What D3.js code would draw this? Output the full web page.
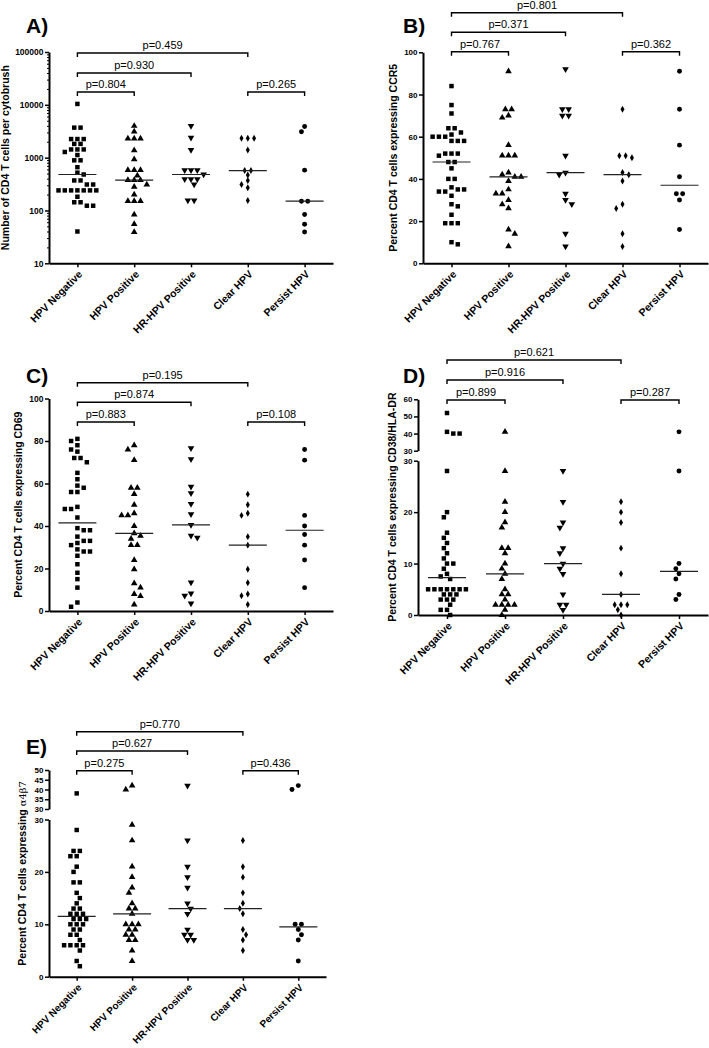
<!DOCTYPE html>
<html><head><meta charset="utf-8">
<script src="https://cdn.jsdelivr.net/npm/d3@7"></script>
<style>body{margin:0;background:#fff}svg{display:block}</style>
</head><body>
<svg id="chart" width="709" height="1048"></svg>
<script>
const categories = ["HPV Negative","HPV Positive","HR-HPV Positive","Clear HPV","Persist HPV"];
const comparisons = [[0,3],[0,2],[0,1],[3,4]];

// A) Number of CD4 T cells per cytobrush
const cd4Count = [
  [10400,3700,3700,2250,2250,2250,1820,1820,1430,1430,1430,1280,1120,890,890,660,520,480,370,370,310,310,240,240,240,240,240,240,240,182,143,143,123,123,40],
  [3980,3100,2290,2290,2290,1380,925,580,580,580,460,375,375,375,310,280,200,150,150,150,84,55,39],
  [4000,2400,1400,580,580,580,480,390,390,390,310,155,155],
  [2320,2320,2320,1390,570,570,470,370,311,270,155],
  [3900,3100,580,150,150,84,55,39]
];
const pCd4 = ["p=0.459","p=0.930","p=0.804","p=0.265"];

// B) Percent CD4 T cells expressing CCR5
const ccr5 = [
  [84,75,71,64,64,62,61,60,60,60,58,58,58,52,52,52,51,48,48,45,40,40,36,35,35,34,34,32,28,27,23,19,19,19,10,9],
  [91,73,73,70,69,56,51,51,51,43,42,41,41,39,35,33,33,30,28,26,16,14,8],
  [92,73,73,70,70,51,43,42,33,30,28,14,8],
  [73,51,51,50,43,42,39,28,26,14,8],
  [91,73,56,41,33,33,30,16]
];
const pCcr5 = ["p=0.801","p=0.371","p=0.767","p=0.362"];

// C) Percent CD4 T cells expressing CD69
const cd69 = [
  [81,80,78,76,75,72,72,70,65,62,59,58,56,56,49,48,48,44,39,38,38,35,33,33,32,31,29,28,28,26,22,18,15,11,4,2],
  [78,76,71,58,58,55,50,46,45,45,40,36.5,35.4,34,31,31,24,19.6,13,11,8,7,3],
  [76.6,71.4,58.5,55.4,50.4,45.6,40.5,35.4,34.5,13.5,8.3,7.2,3.6],
  [55,50,46,45,35,31,19.6,13.3,8,7.2,3.1],
  [76,71,45,40,36,31,24,11]
];
const pCd69 = ["p=0.195","p=0.874","p=0.883","p=0.108"];

// D) Percent CD4 T cells expressing CD38/HLA-DR
const cd38 = [
  [52,41,40,40,28,20,19,16,15,14,13,12,11,10,10,9,8,7.5,7,5,5,5,5,5,5,5,4,4,4,3,3,3,2,1,1,0],
  [41,28,22,20,18,17,13,13,12,10,9,8,7,5,4,4,3,2,2,2,2,1,0],
  [28,22,18,17,13,12,10,9,8,4,2,2,1],
  [22,20,18,13,8,4,2,2,2,1,0],
  [41,28,10,9,8,7,4,3]
];
const pCd38 = ["p=0.621","p=0.916","p=0.899","p=0.287"];

// E) Percent CD4 T cells expressing a4b7
const a4b7 = [
  [38,28,24,24,23,23,21,20,18,18,16,15,14,13,13,12,12,12,11,11,11,10,10,10,9,9,8,8,7,6,6,6,6,5,3,2],
  [42,40,29,26,21,19,17,16,14,13,13,12,10,10,10,9,9,8,8,7,7,5,3],
  [42,26,21,19,17,14,13,12,9,8,8,7,7],
  [26,21,19,16,14,13,12,9,8,7,5],
  [42,40,10,10,9,8,7,3]
];
const pA4b7 = ["p=0.770","p=0.627","p=0.275","p=0.436"];

const ticksLog = [10,100,1000,10000,100000];
const ticksPct = [0,20,40,60,80,100];
const ticksDUpper = [30,40,50,60];
const ticksDLower = [0,10,20,30];
const ticksEUpper = [30,35,40,45,50];
const ticksELower = [0,10,20,30];

const FONT = "'Liberation Sans', Arial, Helvetica, sans-serif";
const svg = d3.select("#chart");

const panels = [
  {title:"A)", tx:26, ty:33, data:cd4Count, p:pCd4, x0:49, x1:333, labX:9, tickFont:8.5, catFont:10.5,
   ylab:[{t:"Number of CD4 T cells per cytobrush"}],
   segs:[{scale:d3.scaleLog().domain([10,100000]).range([263.3,52]), ticks:ticksLog, minor:true}],
   br:[53,73,92,92]},
  {title:"B)", tx:403, ty:33, data:ccr5, p:pCcr5, x0:423, x1:708, labX:397, tickFont:8, catFont:10.5,
   ylab:[{t:"Percent CD4 T cells expressing CCR5"}],
   segs:[{scale:d3.scaleLinear().domain([0,100]).range([263.3,52.3]), ticks:ticksPct}],
   br:[12.7,32.3,51.7,51.7]},
  {title:"C)", tx:26, ty:383, data:cd69, p:pCd69, x0:49, x1:333, labX:22, tickFont:8.5, catFont:10.5,
   ylab:[{t:"Percent CD4 T cells expressing CD69"}],
   segs:[{scale:d3.scaleLinear().domain([0,100]).range([611,398.5]), ticks:ticksPct}],
   br:[382.7,402.3,422,422]},
  {title:"D)", tx:403, ty:382.7, data:cd38, p:pCd38, x0:418, x1:708, labX:395.5, tickFont:8, catFont:10.5,
   ylab:[{t:"Percent CD4 T cells expressing CD38/HLA-DR"}],
   segs:[{scale:d3.scaleLinear().domain([30,60]).range([450.7,399.3]), ticks:ticksDUpper},
         {scale:d3.scaleLinear().domain([0,30]).range([615,460.7]), ticks:ticksDLower}],
   br:[360,380,400,400]},
  {title:"E)", tx:26, ty:754, data:a4b7, p:pA4b7, x0:49, x1:326, labX:26, tickFont:8, catFont:10,
   ylab:[{t:"Percent CD4 T cells expressing "},{t:"\u03b14\u03b27", serif:true}],
   segs:[{scale:d3.scaleLinear().domain([30,50]).range([809,770]), ticks:ticksEUpper},
         {scale:d3.scaleLinear().domain([0,30]).range([976.7,819.5]), ticks:ticksELower}],
   br:[731.7,751,770.7,770.7]}
];

const triDown = {draw(ctx, size){ const y = -Math.sqrt(size/(Math.sqrt(3)*3)); ctx.moveTo(0,-y*2); ctx.lineTo(-Math.sqrt(3)*y, y); ctx.lineTo(Math.sqrt(3)*y, y); ctx.closePath(); }};
const shapes = [
  {type:d3.symbolSquare, size:20},
  {type:d3.symbolTriangle, size:19},
  {type:triDown, size:19},
  {type:d3.symbolDiamond, size:14},
  {type:d3.symbolCircle, size:19}
];

const ROW = 6.3, MINDIST = 5.4;
function dodge(values, yFn){
  const groups = d3.groups(values, v=>v).sort((a,b)=>yFn(a[0])-yFn(b[0]));
  const placed = [], out = [];
  groups.forEach(([v, arr], gi) => {
    const y = yFn(v), n = arr.length;
    const base = d3.range(n).map(i => (i-(n-1)/2)*ROW);
    let found = 0;
    outer: for (let k=0; k<100; k++){
      const step = k*ROW/2;
      const cands = k===0 ? [0] : (gi%2 ? [-step, step] : [step, -step]);
      for (const c of cands){
        const ok = base.every(b => placed.every(p => Math.hypot(p.x-(b+c), p.y-y) >= MINDIST));
        if (ok){ found = c; break outer; }
      }
    }
    base.forEach(b => { placed.push({x:b+found, y}); out.push({v, dx:b+found, y}); });
  });
  return out;
}

panels.forEach(P => {
  const g = svg.append("g");
  const x = d3.scalePoint().domain(categories).range([P.x0, P.x1]).padding(0.5);
  const yFn = P.segs.length === 1 ? (v => P.segs[0].scale(v)) : (v => v > 30 ? P.segs[0].scale(v) : P.segs[1].scale(v));
  const allRanges = P.segs.flatMap(s => s.scale.range());
  const yTop = d3.min(allRanges), yBot = d3.max(allRanges);

  // y axes
  P.segs.forEach(s => {
    const ax = d3.axisLeft(s.scale).tickValues(s.ticks).tickSize(4).tickSizeOuter(0).tickPadding(1.5)
      .tickFormat(d => String(d));
    const ga = g.append("g").attr("transform", `translate(${P.x0},0)`).call(ax);
    ga.select(".domain").attr("stroke","#000").attr("stroke-width",2);
    ga.selectAll(".tick line").attr("stroke","#000").attr("stroke-width",1.5);
    ga.selectAll(".tick text").attr("font-family",FONT).attr("font-weight","bold").attr("font-size",P.tickFont).attr("fill","#000");
    if (s.minor){
      const minors = [];
      s.ticks.slice(0,-1).forEach(t => { for (let m=2;m<10;m++) minors.push(t*m); });
      const am = d3.axisLeft(s.scale).tickValues(minors).tickSize(2).tickSizeOuter(0).tickFormat("");
      const gm = g.append("g").attr("transform", `translate(${P.x0},0)`).call(am);
      gm.select(".domain").remove();
      gm.selectAll(".tick line").attr("stroke","#000").attr("stroke-width",1);
    }
  });

  // x axis
  const axb = d3.axisBottom(x).tickSize(4).tickSizeOuter(0).tickFormat("");
  const gx = g.append("g").attr("transform", `translate(0,${yBot})`).call(axb);
  gx.select(".domain").attr("stroke","#000").attr("stroke-width",2);
  gx.selectAll(".tick line").attr("stroke","#000").attr("stroke-width",1.5);
  g.selectAll(".catlab").data(categories).join("text")
    .attr("transform", c => `translate(${x(c)+3},${yBot+9}) rotate(-45)`)
    .attr("text-anchor","end").attr("dy","0.35em")
    .attr("font-family",FONT).attr("font-weight","bold").attr("font-size",P.catFont).attr("fill","#000")
    .text(c => c);

  // y label
  const yl = g.append("text")
    .attr("transform", `translate(${P.labX},${(yTop+yBot)/2}) rotate(-90)`)
    .attr("text-anchor","middle").attr("font-family",FONT).attr("font-weight","bold")
    .attr("font-size",10.5).attr("fill","#000");
  P.ylab.forEach(part => {
    const ts = yl.append("tspan").text(part.t);
    if (part.serif) ts.attr("font-family","'DejaVu Serif', 'Liberation Serif', serif").attr("font-weight","normal").attr("font-size",10);
  });

  // title
  g.append("text").attr("x",P.tx).attr("y",P.ty).attr("font-family",FONT).attr("font-weight","bold")
    .attr("font-size",21).attr("fill","#000").text(P.title);

  // points + medians
  categories.forEach((c, ci) => {
    const vals = P.data[ci];
    const pts = dodge(vals, yFn);
    const sym = d3.symbol().type(shapes[ci].type).size(shapes[ci].size);
    g.append("g").selectAll("path").data(pts).join("path")
      .attr("transform", p => `translate(${x(c)+p.dx},${p.y})`)
      .attr("d", sym).attr("fill","#000");
    const med = d3.median(vals);
    g.append("line").attr("x1",x(c)-19).attr("x2",x(c)+19)
      .attr("y1",yFn(med)).attr("y2",yFn(med)).attr("stroke","#222").attr("stroke-width",1.2);
  });

  // brackets
  comparisons.forEach(([a,b], i) => {
    const yb = P.br[i], xa = x(categories[a]), xb2 = x(categories[b]);
    g.append("path").attr("d", `M${xa},${yb+4}V${yb}H${xb2}V${yb+4}`)
      .attr("fill","none").attr("stroke","#000").attr("stroke-width",1.4);
    g.append("text").attr("x",(xa+xb2)/2).attr("y",yb-4).attr("text-anchor","middle")
      .attr("font-family",FONT).attr("font-size",11).attr("fill","#000").text(P.p[i]);
  });
});
</script>
</body></html>
